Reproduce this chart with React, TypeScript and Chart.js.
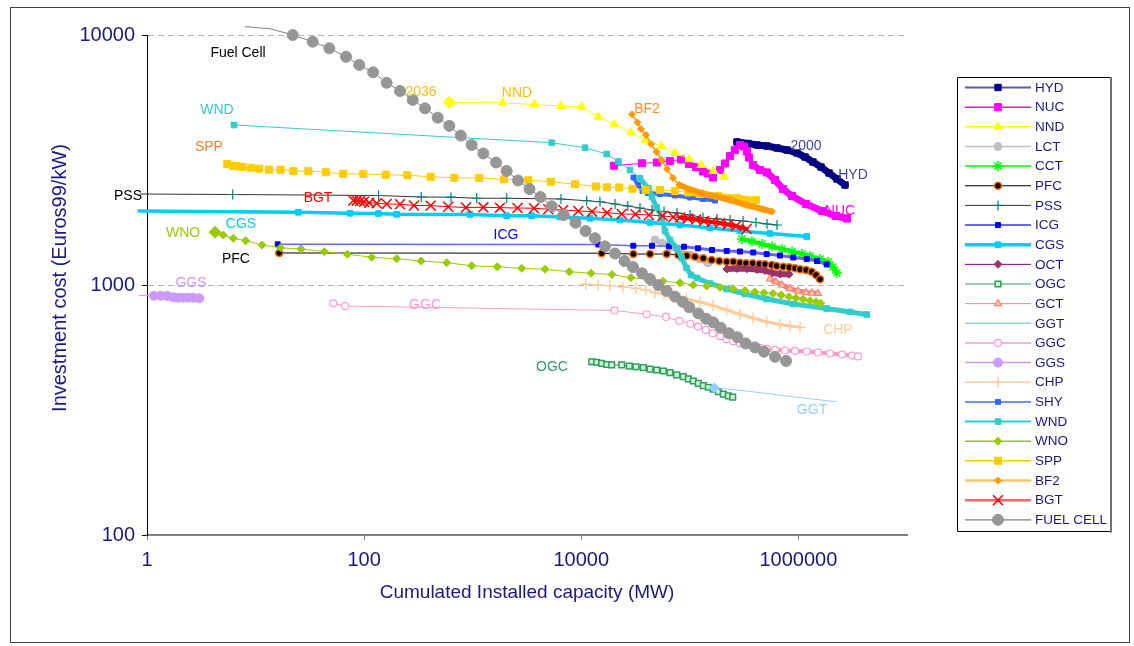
import React, { useEffect, useRef } from 'react';
import { Chart, registerables } from 'chart.js';
import { drawPoint } from 'chart.js/helpers';

Chart.register(...registerables);

// ---------------- data (x = cumulated installed capacity MW, y = investment cost Euros99/kW) ----------------
const HYD = [[271800,3733],[343400,3681],[415200,3631],[513800,3597],[635000,3532],[784900,3467],[970000,3373],[1150000,3251],[1362000,3105],[1615000,2965],[1914000,2806],[2265000,2655],[2686000,2512]];
const NUC = [[20000,3000],[36250,3069],[49800,3090],[65600,3133],[82800,3177],[98200,3048],[114000,2965],[132100,2844],[146900,2793],[163400,2692],[189600,2884],[210800,3062],[234300,3281],[260500,3467],[289600,3631],[315400,3581],[336000,3420],[350700,3236],[381800,3020],[442600,2884],[513800,2818],[608500,2630],[721000,2420],[873000,2270],[1175000,2109],[1649000,1977],[2218000,1888],[2800000,1845]];
const NND = [[609,5380],[1889,5346],[3707,5272],[6506,5200],[10090,5164],[14350,4710],[20230,4397],[28710,4074],[39450,3802],[54810,3589],[72950,3373],[98860,3186],[127900,3020],[164400,2858],[207600,2710]];
const LCT = [[47750,1514],[55380,1472],[65600,1419],[81170,1368],[100300,1318],[124000,1271],[146900,1225]];
const CCT = [[302000,1528],[373500,1493],[462000,1459],[571000,1426],[706000,1393],[873000,1361],[1079000,1330],[1279000,1306],[1581000,1271],[1871000,1236],[2080000,1180],[2265000,1117]];
const PFC = [[16.5,1343],[15420,1340],[30140,1330],[42960,1330],[61200,1330],[78300,1318],[93500,1310],[111500,1298],[133000,1278],[158900,1259],[186700,1247],[218400,1239],[251200,1239],[289600,1228],[329000,1221],[379300,1221],[436300,1213],[492000,1210],[567500,1202],[630600,1191],[725600,1183],[824100,1177],[930000,1166],[1035000,1156],[1175000,1148],[1325000,1130],[1452000,1096],[1581000,1054]];
const PSS = [[0.86,2312],[6.16,2301],[136,2280],[336,2249],[631,2245],[1088,2223],[2056,2223],[6506,2208],[11220,2173],[14860,2153],[20450,2109],[26790,2070],[34750,2032],[44780,1995],[57810,1968],[76210,1941],[100300,1905],[132100,1862],[177800,1837],[234300,1820],[308800,1803],[406400,1778],[513800,1754],[635000,1738]];
const ICG = [[16.0,1455],[14350,1452],[30140,1436],[44780,1435],[64290,1429],[88300,1423],[118900,1402],[159900,1380],[218400,1368],[289600,1361],[384000,1349],[510300,1330],[676500,1312],[897100,1288],[1192000,1271],[1483000,1247],[1820000,1208]];
const CGS = [[0.844,1977],[24.8,1954],[74.1,1936],[135,1932],[199.5,1918],[944,1915],[2056,1893],[3492,1893],[6368,1871],[12030,1849],[22740,1820],[42960,1778],[81170,1738],[153400,1690],[289600,1644],[547000,1607],[1192000,1563]];
const OCT = [[219800,1159],[271800,1164],[336000,1161],[415200,1153],[492000,1143],[571000,1117],[676500,1107],[818800,1104]];
const OGC = [[12480,493],[13870,491],[15420,486],[17140,481],[19050,479],[23570,479],[27680,474],[31900,471],[37240,467],[42960,461],[49500,457],[56930,453],[65600,446],[75680,437],[87100,430],[96800,421],[107600,413],[119700,404],[133000,396],[147900,390],[164400,383],[182800,374],[203200,366],[226000,360],[248100,356]];
const GCT = [[547000,1057],[621000,1028],[706000,1000],[836000,968],[991000,946],[1175000,933],[1334000,929],[1514000,925]];
const GGT = [[167900,388],[218400,384],[442600,371],[897100,357],[2253000,341]];
const GGC = [[52.0,845],[66.6,824],[20230,791],[40000,764],[60300,745],[80300,718],[101000,700],[118900,682],[140200,661],[162600,641],[189600,624],[218400,607],[251200,596],[289600,584],[336000,575],[384000,566],[442600,560],[510300,555],[608500,550],[751800,547],[930000,545],[1192000,542],[1514000,537],[1954000,532],[2519000,527],[3117000,522],[3540000,518]];
const GGS = [[0.844,908],[1.16,906],[1.34,906],[1.54,904],[1.75,893],[1.94,890],[2.16,890],[2.40,890],[2.67,890],[3.03,885]];
const CHP = [[11050,1006],[14260,1000],[18390,994],[24220,982],[31900,970],[39450,955],[47750,933],[57810,916],[69950,899],[93500,879],[124000,855],[163400,828],[218400,794],[289600,764],[381800,738],[510300,713],[676500,695],[836000,685],[1035000,677]];
const SHY = [[30270,2692],[33290,2512],[36640,2377],[41180,2333],[53100,2312],[72950,2280],[100300,2239],[132100,2208],[170600,2178]];
const WND = [[6.33,4365],[5342,3707],[10820,3540],[17140,3342],[21930,3119],[28100,2884],[34750,2673],[41420,2437],[44780,2249],[49500,2042],[55040,1862],[59060,1644],[65600,1514],[75680,1406],[84100,1282],[93500,1169],[102500,1096],[116400,1067],[153400,1014],[218400,964],[322000,920],[510300,879],[897100,839],[1820000,805],[2985000,780],[4254000,762]];
const WNO = [[4.23,1625],[5.04,1585],[6.24,1537],[8.11,1504],[11.5,1445],[17.0,1409],[26.2,1393],[43.0,1359],[70.0,1327],[117.4,1291],[199.5,1274],[334,1247],[576,1228],[979,1194],[1684,1183],[2826,1166],[4634,1156],[7760,1130],[12300,1114],[19180,1102],[28710,1070],[56610,1035],[81170,1021],[107600,1000],[142900,991],[189600,979],[249600,966],[322000,951],[398100,938],[481900,931],[583200,925],[691000,912],[818800,898],[950000,887],[1102000,877],[1279000,865],[1452000,857],[1603000,845]];
const SPP = [[5.49,3048],[6.16,3000],[6.70,2992],[7.55,2965],[9.02,2945],[10.76,2918],[13.3,2891],[17.0,2891],[22.3,2858],[30.6,2851],[44.3,2825],[64.3,2786],[98.3,2780],[158,2761],[250,2748],[410,2710],[677,2685],[1151,2679],[1942,2649],[3250,2624],[5260,2588],[8750,2529],[13670,2477],[17260,2460],[22390,2455],[29640,2427],[39060,2399],[53100,2399],[72950,2377],[96800,2344],[124000,2312],[181600,2270],[271800,2228],[406400,2188]];
const BF2 = [[29310,4818],[32950,4467],[35480,4207],[39450,3981],[43850,3664],[49500,3404],[55040,3162],[61640,2911],[69950,2679],[80300,2512],[100300,2410],[132100,2327],[176700,2254],[234300,2188],[334000,2089],[475000,2009],[567500,1965]];
const BGT = [[79.5,2178],[85.4,2174],[91.6,2168],[99.7,2153],[111.6,2134],[130.5,2122],[161.4,2109],[214,2104],[288,2080],[410,2077],[596,2056],[867,2042],[1253,2045],[1783,2039],[2586,2032],[3670,2028],[4967,2009],[6826,1995],[9390,1977],[12560,1965],[17260,1947],[23570,1923],[31560,1919],[42050,1905],[55980,1888],[70430,1871],[81170,1862],[96100,1845],[113900,1828],[135000,1803],[159900,1786],[189600,1770],[224600,1746],[266200,1722],[334000,1675]];
const FUEL = [[8.0,10790],[13.6,10600],[22.0,10000],[33.6,9400],[47.8,8850],[68.1,8180],[90.2,7590],[121,7090],[161,6440],[214,5970],[280,5500],[364,5090],[476,4670],[609,4330],[775,3960],[979,3630],[1253,3360],[1640,3090],[2056,2860],[2612,2620],[3336,2420],[4210,2250],[5342,2065],[6903,1905],[8851,1774],[10940,1644],[13370,1539],[16520,1428],[20450,1336],[25000,1247],[29940,1180],[36250,1114],[42960,1057],[51200,1000],[61200,946],[72950,898],[85960,857],[98860,814],[119700,770],[140900,733],[164400,709],[192300,675],[229500,641],[273700,618],[326700,584],[398100,563],[481900,541],[608500,516],[768900,497]];

const X_TICKS = [1, 100, 10000, 1000000];
const Y_TICKS = [100, 1000, 10000];
const GRID_VALUES = [1000, 10000];

// in-plot text labels: [text, x value, y value, colour]
const LABELS: [string, number, number, string][] = [
  ['Fuel Cell', 6.89, 8470, '#000000'],
  ['2036', 334, 5916, '#FFC000'],
  ['NND', 2559, 5864, '#FFC000'],
  ['BF2', 40300, 5058, '#FF8C26'],
  ['2000', 1175000, 3597, '#44449A'],
  ['HYD', 3184000, 2754, '#44449A'],
  ['NUC', 2415000, 1977, '#FF00FF'],
  ['WND', 4.41, 5012, '#33CCCC'],
  ['SPP', 3.72, 3565, '#FF7F27'],
  ['PSS', 0.668, 2270, '#000000'],
  ['BGT', 37.6, 2228, '#FF0000'],
  ['WNO', 2.15, 1614, '#99CC00'],
  ['CGS', 7.34, 1754, '#00CCFF'],
  ['ICG', 2026, 1585, '#0000FF'],
  ['PFC', 6.6, 1271, '#000000'],
  ['GGS', 2.54, 1019, '#CC99FF'],
  ['GGC', 364, 832, '#FF99CC'],
  ['CHP', 2316000, 661, '#FFCC99'],
  ['OGC', 5370, 470, '#339966'],
  ['GGT', 1334000, 316, '#99CCFF'],
];

// ---------------- styles ----------------
type Cfg = {
  name: string; data: number[][]; line: string; lw: number;
  style: string; r: number; fill: string; stroke: string; bw?: number;
  thickFrom?: number; thickW?: number; firstR?: number; firstStyle?: string;
  noMarker?: number[]; clip?: boolean;
  lgLine?: string; lgW?: number; lgR?: number; lgNoMarker?: boolean;
};

const SERIES: Cfg[] = [
  { name: 'HYD', data: HYD, line: '#000080', lw: 7, style: 'rect', r: 4.5, fill: '#000080', stroke: '#000080', lgLine: '#5A5AA8', lgW: 2 },
  { name: 'NUC', data: NUC, line: '#FF00FF', lw: 1, thickFrom: 18, thickW: 7, style: 'rect', r: 5, fill: '#FF00FF', stroke: '#FF00FF', lgW: 1.5 },
  { name: 'NND', data: NND, line: '#FFFF00', lw: 1, style: 'triangle', r: 5, fill: '#FFFF00', stroke: '#FFFF00', firstStyle: 'rectRot', firstR: 6, lgW: 1.5 },
  { name: 'LCT', data: LCT, line: '#C0C0C0', lw: 5, style: 'circle', r: 4, fill: '#C0C0C0', stroke: '#C0C0C0', lgW: 1.5 },
  { name: 'CCT', data: CCT, line: '#00FF00', lw: 4, style: 'star', r: 5, fill: '#00FF00', stroke: '#00FF00', bw: 1.5, lgW: 1.5 },
  { name: 'PFC', data: PFC, line: '#000000', lw: 1, style: 'circle', r: 3.5, fill: '#000000', stroke: '#FF6600', bw: 1.5 },
  { name: 'PSS', data: PSS, line: '#333333', lw: 1, style: 'cross', r: 5, fill: '#008080', stroke: '#008080', bw: 1.2, noMarker: [0], clip: false },
  { name: 'ICG', data: ICG, line: '#6666FF', lw: 1.5, thickFrom: 5, thickW: 3, style: 'rect', r: 3.5, fill: '#0000FF', stroke: '#0000FF', lgW: 2 },
  { name: 'CGS', data: CGS, line: '#00CCFF', lw: 3.5, style: 'rect', r: 4, fill: '#00CCFF', stroke: '#00CCFF', noMarker: [0], clip: false, lgW: 3.5 },
  { name: 'OCT', data: OCT, line: '#993366', lw: 6, style: 'rectRot', r: 4, fill: '#993366', stroke: '#993366', lgLine: '#800080', lgW: 1 },
  { name: 'OGC', data: OGC, line: '#339966', lw: 1, style: 'rect', r: 4, fill: '#CCFFCC', stroke: '#339966', bw: 1.5 },
  { name: 'GCT', data: GCT, line: '#FF8080', lw: 5, style: 'triangle', r: 4, fill: '#FFCC99', stroke: '#FF8080', bw: 1.2, lgW: 1 },
  { name: 'GGT', data: GGT, line: '#99CCFF', lw: 1, style: 'rectRot', r: 0, firstR: 5, fill: '#99CCFF', stroke: '#99CCFF', lgNoMarker: true, lgW: 1.5 },
  { name: 'GGC', data: GGC, line: '#FF99CC', lw: 1, thickFrom: 17, thickW: 4, style: 'circle', r: 3.5, fill: '#FFFFFF', stroke: '#FF99CC', bw: 1.2, lgW: 1.5 },
  { name: 'GGS', data: GGS, line: '#CC99FF', lw: 1, style: 'circle', r: 4.5, fill: '#CC99FF', stroke: '#CC99FF', noMarker: [0], clip: false, lgW: 1.5 },
  { name: 'CHP', data: CHP, line: '#FFCC99', lw: 1, thickFrom: 8, thickW: 3, style: 'cross', r: 5.5, fill: '#FFCC99', stroke: '#FFCC99', bw: 1.5, lgW: 1.5 },
  { name: 'SHY', data: SHY, line: '#3D6EE8', lw: 4, style: 'rect', r: 3.5, fill: '#3366FF', stroke: '#3366FF', lgLine: '#6F93EE', lgW: 2 },
  { name: 'WND', data: WND, line: '#33CCCC', lw: 1, thickFrom: 6, thickW: 5, style: 'rect', r: 4, fill: '#33CCCC', stroke: '#33CCCC', lgW: 2 },
  { name: 'WNO', data: WNO, line: '#99CC00', lw: 1, style: 'rectRot', r: 4, fill: '#99CC00', stroke: '#99CC00', firstR: 6, lgW: 1.5 },
  { name: 'SPP', data: SPP, line: '#FFCC00', lw: 1, thickFrom: 29, thickW: 6, style: 'rect', r: 5, fill: '#FFCC00', stroke: '#FFCC00', lgW: 1.5 },
  { name: 'BF2', data: BF2, line: '#FF9900', lw: 1.5, thickFrom: 9, thickW: 6, style: 'rectRot', r: 3.5, fill: '#FF9900', stroke: '#FF9900', lgLine: '#FFC266', lgW: 2.5 },
  { name: 'BGT', data: BGT, line: '#FF0000', lw: 1, thickFrom: 26, thickW: 4, style: 'crossRot', r: 7, fill: '#FF0000', stroke: '#FF0000', bw: 1.5, lgLine: '#FF6666', lgW: 2.5 },
  { name: 'FUEL CELL', data: FUEL, line: '#808080', lw: 1, style: 'circle', r: 5.5, fill: '#969696', stroke: '#969696', noMarker: [0, 1], clip: false, lgW: 1.2 },
];

const FONT = "'Liberation Sans', Arial, Helvetica, sans-serif";
const NAVY = '#1A1A80';

const decorPlugin = {
  id: 'decor',
  beforeDatasetsDraw(chart: any) {
    const { ctx, chartArea, scales } = chart;
    ctx.save();
    ctx.strokeStyle = '#B4B4B4';
    ctx.lineWidth = 1;
    ctx.setLineDash([6, 4]);
    GRID_VALUES.forEach((v) => {
      const y = Math.round(scales.y.getPixelForValue(v)) + 0.5;
      ctx.beginPath();
      ctx.moveTo(chartArea.left + 1, y);
      ctx.lineTo(chartArea.right, y);
      ctx.stroke();
    });
    ctx.restore();
  },
  afterDatasetsDraw(chart: any) {
    const { ctx, scales } = chart;
    ctx.save();
    ctx.font = `14px ${FONT}`;
    ctx.textAlign = 'center';
    ctx.textBaseline = 'middle';
    LABELS.forEach(([t, xv, yv, c]) => {
      ctx.fillStyle = c;
      ctx.fillText(t, scales.x.getPixelForValue(xv), scales.y.getPixelForValue(yv));
    });
    ctx.restore();
  },
  afterDraw(chart: any) {
    const { ctx, chartArea } = chart;
    ctx.save();
    // axis titles
    ctx.fillStyle = NAVY;
    ctx.textAlign = 'center';
    ctx.textBaseline = 'middle';
    ctx.font = `19px ${FONT}`;
    ctx.fillText('Cumulated Installed capacity (MW)', (chartArea.left + chartArea.right) / 2, 593);
    ctx.save();
    ctx.translate(60, 278);
    ctx.rotate(-Math.PI / 2);
    ctx.font = `20px ${FONT}`;
    ctx.fillText('Investment cost (Euros99/kW)', 0, 0);
    ctx.restore();

    // legend box
    const lx = 957, ly = 77, lw = 153, lh = 454;
    ctx.fillStyle = '#FFFFFF';
    ctx.fillRect(lx, ly, lw, lh);
    ctx.strokeStyle = '#000000';
    ctx.lineWidth = 1;
    ctx.beginPath();
    ctx.moveTo(lx + lw, ly + 0.5);
    ctx.lineTo(lx + 0.5, ly + 0.5);
    ctx.lineTo(lx + 0.5, ly + lh + 0.5);
    ctx.lineTo(lx + lw, ly + lh + 0.5);
    ctx.stroke();
    ctx.strokeStyle = '#707070';
    ctx.lineWidth = 2;
    ctx.beginPath();
    ctx.moveTo(lx + lw + 1, ly);
    ctx.lineTo(lx + lw + 1, ly + lh + 1.5);
    ctx.stroke();

    const y0 = 87.5, dy = 19.65;
    SERIES.forEach((s, i) => {
      const y = y0 + i * dy;
      ctx.strokeStyle = s.lgLine || s.line;
      ctx.lineWidth = s.lgW || 1;
      ctx.setLineDash([]);
      ctx.beginPath();
      ctx.moveTo(965, y);
      ctx.lineTo(1031, y);
      ctx.stroke();
      if (!s.lgNoMarker) {
        ctx.fillStyle = s.fill;
        ctx.strokeStyle = s.stroke;
        ctx.lineWidth = s.bw || 1;
        drawPoint(ctx, { pointStyle: s.style as any, radius: s.lgR || Math.max(s.r, 3.5), borderWidth: s.bw || 1, rotation: 0 } as any, 998, y);
      }
      ctx.fillStyle = NAVY;
      ctx.font = `13.5px ${FONT}`;
      ctx.textAlign = 'left';
      ctx.textBaseline = 'middle';
      ctx.fillText(s.name, 1035, y + 0.5);
    });

    // outer frame
    ctx.strokeStyle = '#404040';
    ctx.lineWidth = 1;
    ctx.strokeRect(10.5, 7.5, 1119, 635);
    ctx.restore();
  },
};

export default function App() {
  const ref = useRef<HTMLCanvasElement>(null);
  useEffect(() => {
    const datasets = SERIES.map((s, i) => ({
      label: s.name,
      data: s.data.map(([x, y]) => ({ x, y })),
      borderColor: s.line,
      borderWidth: s.lw,
      borderJoinStyle: 'round' as const,
      borderCapStyle: 'round' as const,
      backgroundColor: s.fill,
      pointBackgroundColor: s.fill,
      pointBorderColor: s.stroke,
      pointBorderWidth: s.bw || 1,
      pointStyle: (c: any) => (c.dataIndex === 0 && s.firstStyle ? s.firstStyle : s.style),
      pointRadius: (c: any) => {
        if (s.noMarker && s.noMarker.includes(c.dataIndex)) return 0;
        if (c.dataIndex === 0 && s.firstR != null) return s.firstR;
        return s.r;
      },
      pointHoverRadius: 0,
      tension: 0,
      fill: false,
      order: -i,
      clip: s.clip === false ? false : undefined,
      segment: s.thickFrom != null
        ? { borderWidth: (c: any) => (c.p0DataIndex >= (s.thickFrom as number) ? (s.thickW as number) : s.lw) }
        : undefined,
    }));

    const chart = new Chart(ref.current as HTMLCanvasElement, {
      type: 'line',
      data: { datasets: datasets as any },
      plugins: [decorPlugin],
      options: {
        animation: false,
        responsive: false,
        maintainAspectRatio: false,
        events: [],
        layout: { padding: { left: 10, right: 1134 - 907, top: 35, bottom: 0 } },
        plugins: { legend: { display: false }, tooltip: { enabled: false }, title: { display: false } },
        scales: {
          x: {
            type: 'logarithmic',
            min: 1,
            max: 10000000,
            afterBuildTicks: (sc: any) => { sc.ticks = X_TICKS.map((v) => ({ value: v })); },
            afterFit: (sc: any) => { sc.height = 646 - 535; },
            ticks: {
              autoSkip: false, maxRotation: 0, minRotation: 0, padding: 8, color: NAVY,
              font: { family: FONT, size: 20 },
              callback: (v: any) => String(v),
            },
            grid: { drawOnChartArea: false, drawTicks: true, tickLength: 5, tickColor: '#808080', tickWidth: 1 },
            border: { color: '#808080', width: 2 },
          },
          y: {
            type: 'logarithmic',
            min: 100,
            max: 10000,
            afterBuildTicks: (sc: any) => { sc.ticks = Y_TICKS.map((v) => ({ value: v })); },
            afterFit: (sc: any) => { sc.width = 137; },
            ticks: {
              autoSkip: false, padding: 7, color: NAVY,
              font: { family: FONT, size: 20 },
              callback: (v: any) => String(v),
            },
            grid: { drawOnChartArea: false, drawTicks: true, tickLength: 5, tickColor: '#000000', tickWidth: 1 },
            border: { color: '#000000', width: 1 },
          },
        },
      } as any,
    });
    return () => chart.destroy();
  }, []);

  return (
    <div style={{ position: 'fixed', left: 0, top: 0, width: 1134, height: 646, background: '#FFFFFF' }}>
      <canvas ref={ref} width={1134} height={646} style={{ display: 'block', width: 1134, height: 646 }} />
    </div>
  );
}
